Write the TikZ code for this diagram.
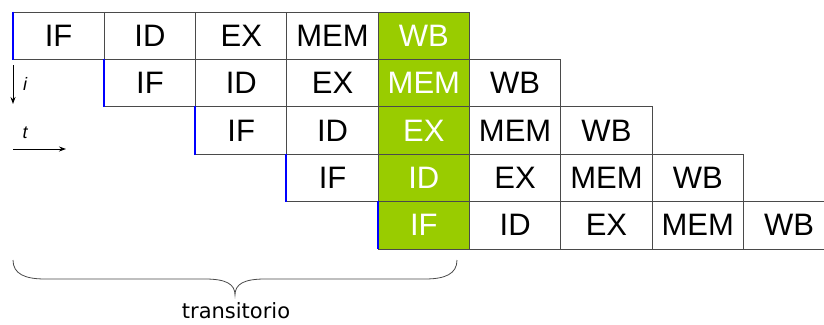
\documentclass[tikz,border=0pt]{standalone}
\usepackage{fontspec}
\setmainfont{Liberation Sans}
\newfontfamily\bracefont{DejaVu Sans}
\usetikzlibrary{arrows.meta}
\definecolor{stagegreen}{HTML}{99CC00}
\definecolor{gridgray}{HTML}{4A4A4A}

\begin{document}
\begin{tikzpicture}[x=1pt,y=-1pt,
	stage/.style={draw=gridgray,line width=0.9pt,minimum width=91.3pt,minimum height=47.4pt,inner sep=0pt,font=\fontsize{31}{32}\selectfont},
	firstedge/.style={blue,line width=2pt},
	timearrow/.style={black,line width=0.9pt,-{Stealth[length=7pt,width=5pt]}},
	axislabel/.style={font=\itshape\fontsize{18}{19}\selectfont}]
	\useasboundingbox (0,0) rectangle (824,324);
	\clip (0,0) rectangle (824,324);
	% pipeline stages, one row per instruction
	\foreach \r in {0,...,4}{
		\foreach \s/\name in {0/IF,1/ID,2/EX,3/MEM,4/WB}{
			\pgfmathtruncatemacro{\c}{\r+\s}
			\ifnum\c=4 \def\cellfill{stagegreen}\def\celltext{white}\else\def\cellfill{white}\def\celltext{black}\fi
			\node[stage,fill=\cellfill,text=\celltext] (r\r s\s) at ({58.65+91.3*\c},{35.7+47.4*\r}) {\name};
		}
	}
	\foreach \r in {0,...,4}
		\draw[firstedge] (r\r s0.north west) -- (r\r s0.south west);
	% axes
	\coordinate (itop) at (13,65);
	\coordinate (ibot) at (13,104);
	\draw[timearrow] (itop) -- (ibot);
	\node[axislabel] (i) at (25,84) {i};
	\coordinate (tleft) at (13,149);
	\coordinate (tright) at (66,149);
	\draw[timearrow] (tleft) -- (tright);
	\node[axislabel] (t) at (25,133) {t};
	% brace
	\coordinate (bl) at (13,260);
	\coordinate (br) at (457,260);
	\coordinate (btip) at (235,295);
	\draw[gridgray,line width=0.8pt] (bl) .. controls (13,274) and (25,279) .. (45,279) -- (205,279) .. controls (226,279) and (235,284) .. (btip) .. controls (235,284) and (244,279) .. (265,279) -- (425,279) .. controls (445,279) and (457,274) .. (br);
	\node[font=\bracefont\fontsize{21}{22}\selectfont] (trans) at (236,311) {transitorio};
\end{tikzpicture}
\end{document}
